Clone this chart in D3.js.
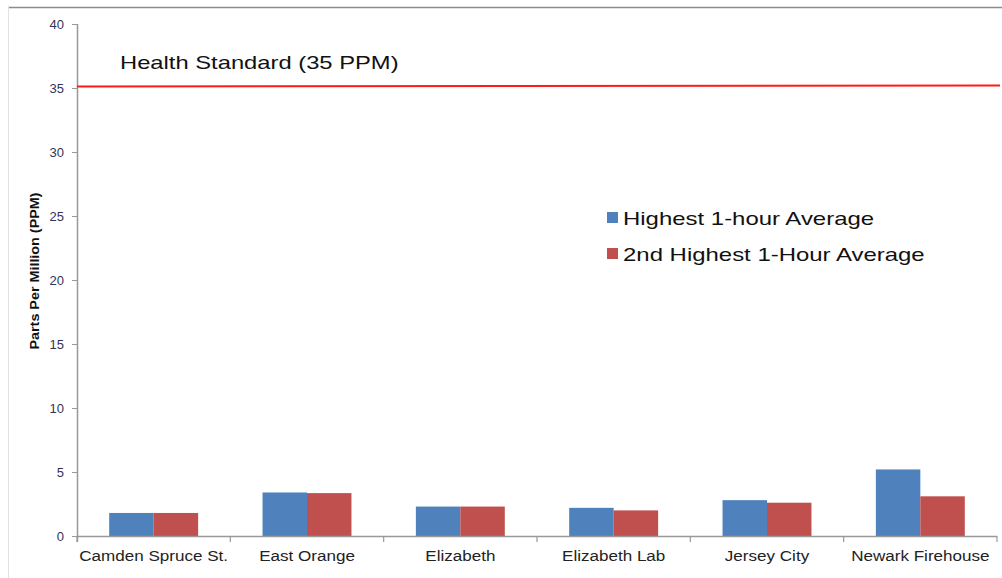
<!DOCTYPE html>
<html>
<head>
<meta charset="utf-8">
<script src="https://cdn.jsdelivr.net/npm/d3@7"></script>
<style>
  body { margin: 0; background: #fff; }
  svg { display: block; font-family: "Liberation Sans", Arial, sans-serif; }
</style>
</head>
<body>
<div id="chart"></div>
<script>
// data
var sites = ["Camden Spruce St.", "East Orange", "Elizabeth", "Elizabeth Lab", "Jersey City", "Newark Firehouse"];
var highest = [1.8, 3.4, 2.3, 2.2, 2.8, 5.2];
var secondHighest = [1.8, 3.35, 2.3, 2.0, 2.6, 3.1];
var seriesNames = ["Highest 1-hour Average", "2nd Highest 1-Hour Average"];
var seriesColors = ["#4f81bd", "#c0504d"];
var yTicks = [0, 5, 10, 15, 20, 25, 30, 35, 40];
var standard = 35;

var width = 1002, height = 578;
var margin = { top: 24, right: 5, bottom: 42, left: 77 };

var svg = d3.select("#chart").append("svg")
  .attr("width", width)
  .attr("height", height);

// stretch text horizontally like the original export
function stretch(sel, factor) {
  sel.each(function() {
    var w = this.getComputedTextLength();
    d3.select(this).attr("textLength", w * factor).attr("lengthAdjust", "spacingAndGlyphs");
  });
}

// border lines of the chart area
svg.append("line").attr("x1", 8).attr("x2", width).attr("y1", 7.5).attr("y2", 7.5)
  .attr("stroke", "#8c8c8c").attr("stroke-width", 1.5);
svg.append("line").attr("x1", 8.5).attr("x2", 8.5).attr("y1", 7).attr("y2", height)
  .attr("stroke", "#e2e2e2").attr("stroke-width", 1);

var x = d3.scaleBand()
  .domain(sites)
  .range([margin.left, 997])
  .padding(0);

var y = d3.scaleLinear()
  .domain([0, 40])
  .range([536, margin.top]);

var groupW = x.bandwidth() * 0.58;
var barW = groupW / 2;

// bars
var rows = sites.map(function(s, i) { return { site: s, vals: [highest[i], secondHighest[i]] }; });
var groups = svg.selectAll("g.site")
  .data(rows)
  .enter().append("g")
  .attr("class", "site")
  .attr("transform", function(d) { return "translate(" + (x(d.site) + (x.bandwidth() - groupW) / 2) + ",0)"; });

groups.selectAll("rect")
  .data(function(d) { return d.vals; })
  .enter().append("rect")
  .attr("x", function(d, i) { return i * barW; })
  .attr("y", function(d) { return y(d); })
  .attr("width", barW)
  .attr("height", function(d) { return y(0) - y(d); })
  .attr("fill", function(d, i) { return seriesColors[i]; });

// y axis
var yAxis = svg.append("g")
  .attr("transform", "translate(" + margin.left + ",0)")
  .call(d3.axisLeft(y).tickValues(yTicks).tickSize(5).tickPadding(8));
yAxis.select(".domain").attr("stroke", "#999").attr("stroke-width", 1.5).attr("d", "M0.5," + y(40) + "V" + (y(0) + 6));
yAxis.selectAll(".tick line").attr("stroke", "#999");
yAxis.selectAll(".tick text").attr("fill", "#333355").style("font-size", "13px");

// x axis
var xAxis = svg.append("g")
  .attr("transform", "translate(0," + y(0) + ")")
  .call(d3.axisBottom(x).tickSize(0).tickPadding(14));
xAxis.select(".domain").attr("stroke", "#999").attr("stroke-width", 1.5).attr("d", "M" + margin.left + ",0.5H997");
xAxis.selectAll(".tick text").attr("fill", "#222").style("font-size", "15.5px").call(stretch, 1.1);
// category dividers
svg.selectAll("line.div")
  .data(sites.concat(["end"]))
  .enter().append("line")
  .attr("class", "div")
  .attr("x1", function(d, i) { return margin.left + i * x.bandwidth(); })
  .attr("x2", function(d, i) { return margin.left + i * x.bandwidth(); })
  .attr("y1", y(0))
  .attr("y2", y(0) + 6)
  .attr("stroke", "#999")
  .attr("stroke-width", 1.2);

// y title
svg.append("text")
  .attr("transform", "translate(39," + 271 + ") rotate(-90)")
  .attr("text-anchor", "middle")
  .style("font-size", "12.5px")
  .style("font-weight", "bold")
  .attr("fill", "#111")
  .text("Parts Per Million (PPM)")
  .attr("textLength", 157)
  .attr("lengthAdjust", "spacingAndGlyphs");

// health standard line
svg.append("line")
  .attr("x1", margin.left).attr("x2", 1000)
  .attr("y1", y(standard) - 1.5).attr("y2", y(standard) - 2.5)
  .attr("stroke", "#ff1a1a")
  .attr("stroke-width", 2);

svg.append("text")
  .attr("x", 120)
  .attr("y", 69)
  .style("font-size", "19px")
  .attr("fill", "#111")
  .text("Health Standard (35 PPM)")
  .call(stretch, 1.25);

// legend
var legend = svg.selectAll("g.legend")
  .data(seriesNames)
  .enter().append("g")
  .attr("class", "legend")
  .attr("transform", function(d, i) { return "translate(607," + (212 + i * 36) + ")"; });
legend.append("rect")
  .attr("width", 11).attr("height", 11)
  .attr("fill", function(d, i) { return seriesColors[i]; });
legend.append("text")
  .attr("x", 16)
  .attr("y", 13)
  .style("font-size", "19px")
  .attr("fill", "#111")
  .text(function(d) { return d; })
  .call(stretch, 1.26);
</script>
</body>
</html>
